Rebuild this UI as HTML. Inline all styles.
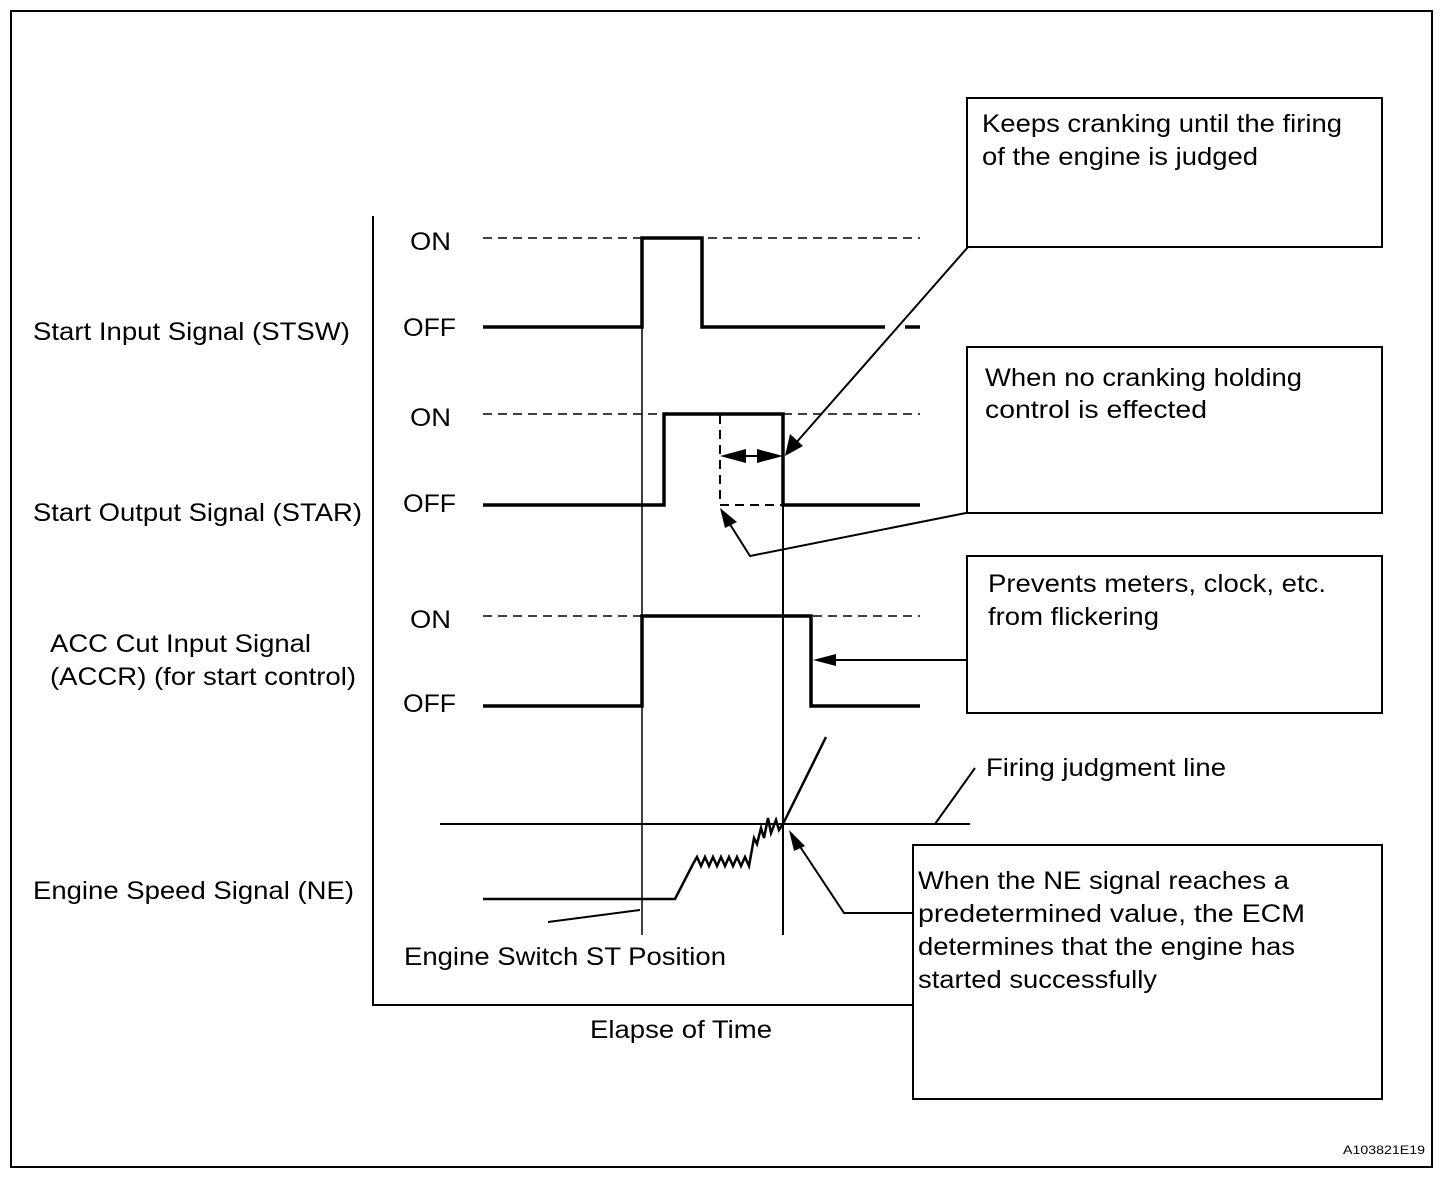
<!DOCTYPE html>
<html><head><meta charset="utf-8"><style>
html,body{margin:0;padding:0;background:#fff}
svg{display:block}
text{font-family:"Liberation Sans",Arial,sans-serif;font-size:25px;fill:#000}
</style></head><body>
<svg width="1456" height="1178" viewBox="0 0 1456 1178" xmlns="http://www.w3.org/2000/svg">
<rect x="11" y="11" width="1421" height="1156" fill="none" stroke="#000" stroke-width="2"/>
<g stroke="#000" fill="none">
<polyline points="373,216 373,1005 913,1005" stroke-width="2"/>
<g stroke-width="1.5" stroke-dasharray="9,6">
<line x1="483" y1="238" x2="920" y2="238"/>
<line x1="483" y1="414" x2="920" y2="414"/>
<line x1="483" y1="616" x2="920" y2="616"/>
<line x1="720" y1="415" x2="720" y2="505" stroke-width="2"/>
<line x1="720" y1="505" x2="783" y2="505" stroke-width="2"/>
</g>
<line x1="905" y1="327" x2="920" y2="327" stroke-width="3.5"/>
<g stroke-width="3.5">
<polyline points="483,327 642,327 642,238 702,238 702,327 885,327"/>
<polyline points="483,505 664,505 664,414 783,414 783,505 920,505"/>
<polyline points="483,706 642,706 642,616 811,616 811,706 920,706"/>
</g>
<line x1="642" y1="327" x2="642" y2="935" stroke-width="1.5"/>
<line x1="783" y1="414" x2="783" y2="935" stroke-width="2"/>
<line x1="440" y1="824" x2="970" y2="824" stroke-width="2"/>
<line x1="935" y1="824" x2="975" y2="768" stroke-width="2"/>
<polyline stroke-width="2.5" points="483,899 675,899 693,864 697,857 701,866 705,857 709,866 713,857 717,866 721,857 725,866 729,857 733,866 737,857 741,866 745,857 749,866 754,838 757,844 761,828 764,838 768,818 771,833 776,820 779,830 783,824 826,737"/>
<line x1="548" y1="922" x2="640" y2="910" stroke-width="2"/>
<g stroke-width="2">
<rect x="967" y="98" width="415" height="149"/>
<rect x="967" y="347" width="415" height="166"/>
<rect x="967" y="556" width="415" height="157"/>
<rect x="913" y="845" width="469" height="254"/>
</g>
<g stroke-width="2">
<line x1="968" y1="247" x2="795" y2="444"/>
<line x1="732" y1="456" x2="771" y2="456"/>
<polyline points="966,513 750,556 726,518"/>
<line x1="967" y1="660" x2="828" y2="660"/>
<polyline points="912,913 844,913 797,842"/>
</g>
</g>
<g fill="#000">
<polygon points="785,456 790,434 803,446"/>
<polygon points="720,456 746,449 746,463"/>
<polygon points="783,456 757,449 757,463"/>
<polygon points="720,508 737,522 725,528"/>
<polygon points="813,660 836,654 836,666"/>
<polygon points="789,830 805,846 794,851"/>
</g>
<g lengthAdjust="spacingAndGlyphs">
<text x="410" y="250" textLength="41" lengthAdjust="spacingAndGlyphs">ON</text>
<text x="403" y="336" textLength="53" lengthAdjust="spacingAndGlyphs">OFF</text>
<text x="410" y="426" textLength="41" lengthAdjust="spacingAndGlyphs">ON</text>
<text x="403" y="512" textLength="53" lengthAdjust="spacingAndGlyphs">OFF</text>
<text x="410" y="628" textLength="41" lengthAdjust="spacingAndGlyphs">ON</text>
<text x="403" y="712" textLength="53" lengthAdjust="spacingAndGlyphs">OFF</text>
<text x="33" y="340" textLength="317" lengthAdjust="spacingAndGlyphs">Start Input Signal (STSW)</text>
<text x="33" y="521" textLength="329" lengthAdjust="spacingAndGlyphs">Start Output Signal (STAR)</text>
<text x="50" y="652" textLength="261" lengthAdjust="spacingAndGlyphs">ACC Cut Input Signal</text>
<text x="50" y="685" textLength="306" lengthAdjust="spacingAndGlyphs">(ACCR) (for start control)</text>
<text x="33" y="899" textLength="321" lengthAdjust="spacingAndGlyphs">Engine Speed Signal (NE)</text>
<text x="404" y="965" textLength="322" lengthAdjust="spacingAndGlyphs">Engine Switch ST Position</text>
<text x="590" y="1038" textLength="182" lengthAdjust="spacingAndGlyphs">Elapse of Time</text>
<text x="986" y="776" textLength="240" lengthAdjust="spacingAndGlyphs">Firing judgment line</text>
<text x="982" y="132" textLength="360" lengthAdjust="spacingAndGlyphs">Keeps cranking until the firing</text>
<text x="982" y="165" textLength="276" lengthAdjust="spacingAndGlyphs">of the engine is judged</text>
<text x="985" y="386" textLength="317" lengthAdjust="spacingAndGlyphs">When no cranking holding</text>
<text x="985" y="418" textLength="222" lengthAdjust="spacingAndGlyphs">control  is effected</text>
<text x="988" y="592" textLength="338" lengthAdjust="spacingAndGlyphs">Prevents meters, clock, etc.</text>
<text x="988" y="625" textLength="171" lengthAdjust="spacingAndGlyphs">from flickering</text>
<text x="918" y="889" textLength="371" lengthAdjust="spacingAndGlyphs">When the NE signal reaches a</text>
<text x="918" y="922" textLength="387" lengthAdjust="spacingAndGlyphs">predetermined value, the ECM</text>
<text x="918" y="955" textLength="377" lengthAdjust="spacingAndGlyphs">determines that the engine has</text>
<text x="918" y="988" textLength="239" lengthAdjust="spacingAndGlyphs">started successfully</text>
<text x="1343" y="1154" style="font-size:12px" textLength="82" lengthAdjust="spacingAndGlyphs">A103821E19</text>
</g>
</svg>
</body></html>
